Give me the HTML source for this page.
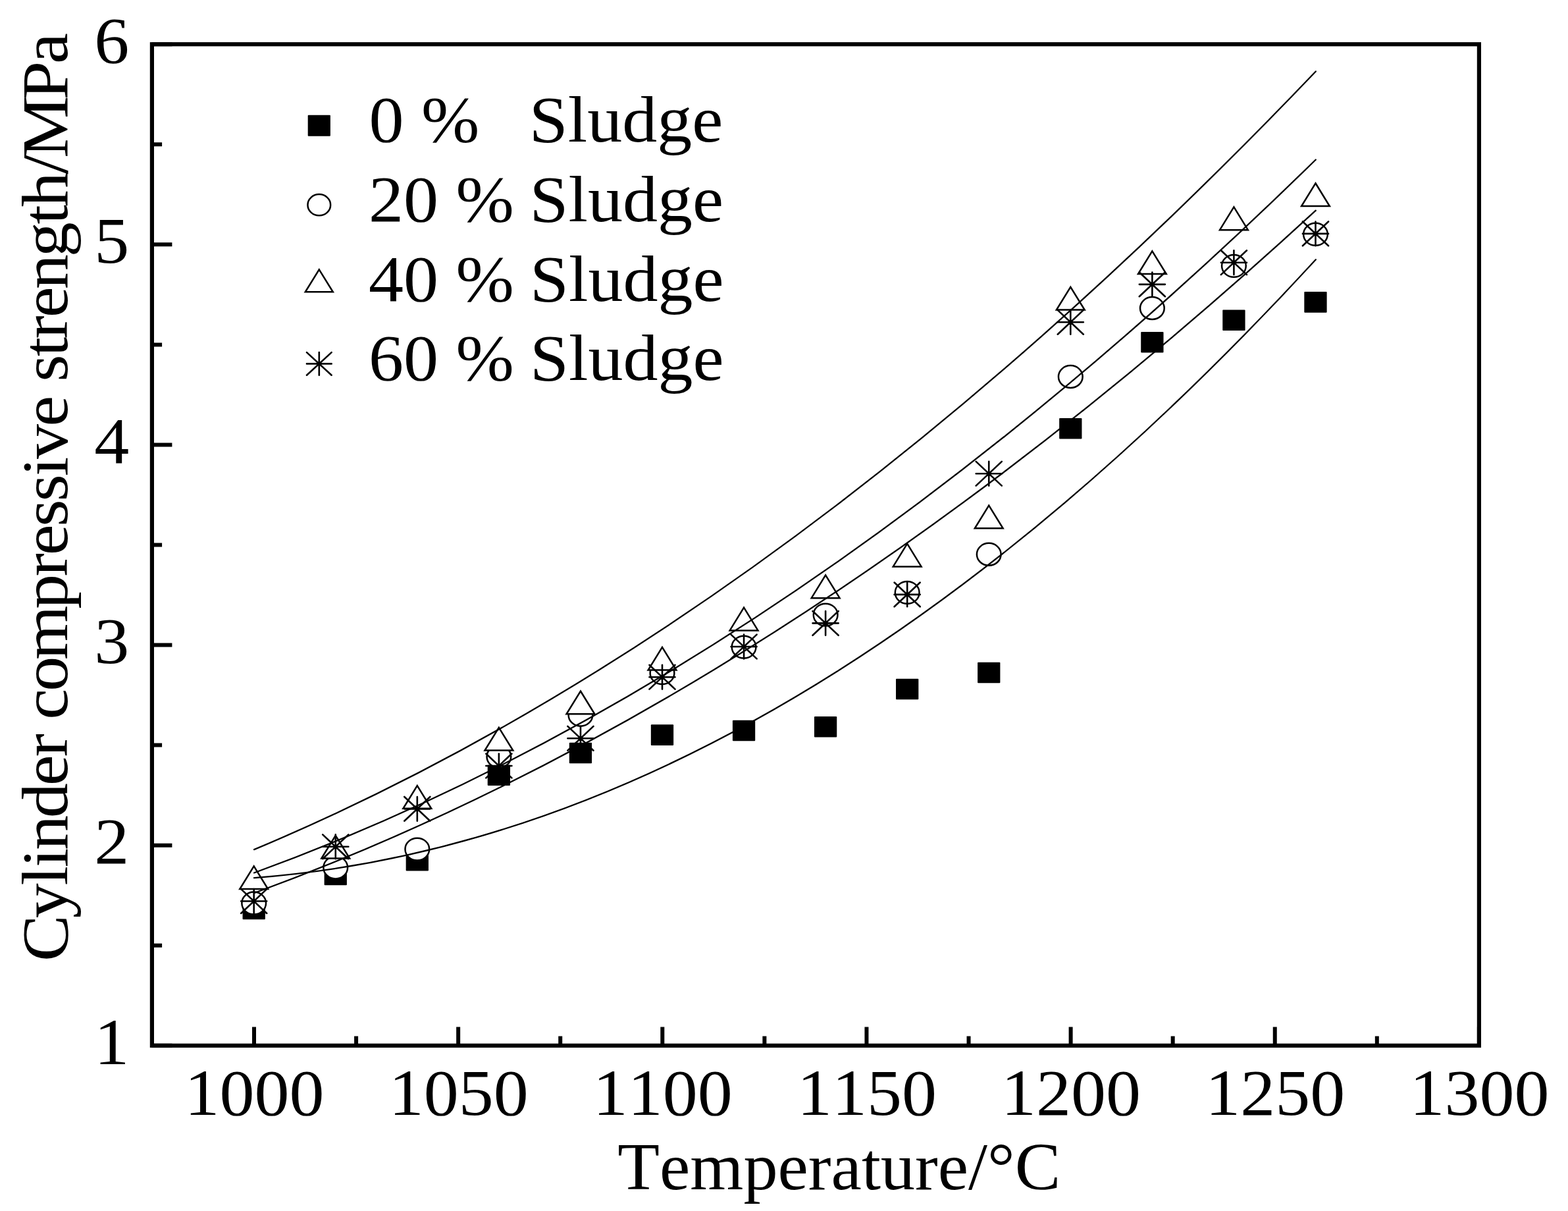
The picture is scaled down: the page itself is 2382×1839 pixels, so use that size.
<!DOCTYPE html>
<html lang="en"><head><meta charset="utf-8"><title>Cylinder compressive strength vs temperature</title>
<style>html,body{margin:0;padding:0;background:#fff}svg{display:block}text{font-family:"Liberation Serif","DejaVu Serif",serif;fill:#000;white-space:pre;font-kerning:none;font-variant-ligatures:none}</style></head><body>
<svg width="2382" height="1839" viewBox="0 0 2382 1839">
<rect x="0" y="0" width="2382" height="1839" fill="#fff"/>
<g id="axes" stroke="#000" fill="none" stroke-linecap="butt">
<rect x="230.9" y="67.2" width="2016" height="1520.6" stroke-width="6.2" stroke-linejoin="miter"/>
<path d="M386 1587.8V1559.5M696.15 1587.8V1559.5M1006.3 1587.8V1559.5M1316.45 1587.8V1559.5M1626.6 1587.8V1559.5M1936.75 1587.8V1559.5M2246.9 1587.8V1559.5" stroke-width="6.0"/>
<path d="M541.08 1587.8V1573.6M851.23 1587.8V1573.6M1161.38 1587.8V1573.6M1471.53 1587.8V1573.6M1781.67 1587.8V1573.6M2091.82 1587.8V1573.6" stroke-width="6.0"/>
<path d="M230.9 1587.8H261.4M230.9 1283.68H261.4M230.9 979.56H261.4M230.9 675.44H261.4M230.9 371.32H261.4M230.9 67.2H261.4M230.9 1435.74H246.1M230.9 1131.62H246.1M230.9 827.5H246.1M230.9 523.38H246.1M230.9 219.26H246.1" stroke-width="6.0"/>
</g>
<g id="s0"><rect x="368.55" y="1364.59" width="34.3" height="31.6" rx="1" fill="#000"/><rect x="492.61" y="1312.59" width="34.3" height="31.6" rx="1" fill="#000"/><rect x="616.67" y="1290.99" width="34.3" height="31.6" rx="1" fill="#000"/><rect x="740.73" y="1161.44" width="34.3" height="31.6" rx="1" fill="#000"/><rect x="864.79" y="1127.68" width="34.3" height="31.6" rx="1" fill="#000"/><rect x="988.85" y="1100.31" width="34.3" height="31.6" rx="1" fill="#000"/><rect x="1112.91" y="1093.77" width="34.3" height="31.6" rx="1" fill="#000"/><rect x="1236.97" y="1087.99" width="34.3" height="31.6" rx="1" fill="#000"/><rect x="1361.03" y="1030.67" width="34.3" height="31.6" rx="1" fill="#000"/><rect x="1485.09" y="1005.73" width="34.3" height="31.6" rx="1" fill="#000"/><rect x="1609.15" y="635.01" width="34.3" height="31.6" rx="1" fill="#000"/><rect x="1733.21" y="503.93" width="34.3" height="31.6" rx="1" fill="#000"/><rect x="1857.27" y="470.48" width="34.3" height="31.6" rx="1" fill="#000"/><rect x="1981.33" y="443.11" width="34.3" height="31.6" rx="1" fill="#000"/></g>
<g id="s20" fill="#fff" stroke="#000" stroke-width="2.5"><ellipse cx="385.7" cy="1371.57" rx="18.35" ry="16.95"/><ellipse cx="509.76" cy="1317.44" rx="18.35" ry="16.95"/><ellipse cx="633.82" cy="1289.61" rx="18.35" ry="16.95"/><ellipse cx="757.88" cy="1148.95" rx="18.35" ry="16.95"/><ellipse cx="881.94" cy="1085.7" rx="18.35" ry="16.95"/><ellipse cx="1006" cy="1022.14" rx="18.35" ry="16.95"/><ellipse cx="1130.06" cy="982.6" rx="18.35" ry="16.95"/><ellipse cx="1254.12" cy="933.64" rx="18.35" ry="16.95"/><ellipse cx="1378.18" cy="899.88" rx="18.35" ry="16.95"/><ellipse cx="1502.24" cy="841.79" rx="18.35" ry="16.95"/><ellipse cx="1626.3" cy="572.04" rx="18.35" ry="16.95"/><ellipse cx="1750.36" cy="468.03" rx="18.35" ry="16.95"/><ellipse cx="1874.42" cy="403.86" rx="18.35" ry="16.95"/><ellipse cx="1998.48" cy="355.81" rx="18.35" ry="16.95"/></g>
<g id="s40" fill="#fff" stroke="#000" stroke-width="2.5" stroke-linejoin="miter"><path d="M385.7 1315.32L407.1 1350.02H364.3Z"/><path d="M509.76 1268.79L531.16 1303.49H488.36Z"/><path d="M633.82 1193.07L655.22 1227.77H612.42Z"/><path d="M757.88 1104.87L779.28 1139.57H736.48Z"/><path d="M881.94 1049.52L903.34 1084.22H860.54Z"/><path d="M1006 982.92L1027.4 1017.62H984.6Z"/><path d="M1130.06 922.7L1151.46 957.4H1108.66Z"/><path d="M1254.12 873.44L1275.52 908.14H1232.72Z"/><path d="M1378.18 825.69L1399.58 860.39H1356.78Z"/><path d="M1502.24 767.6L1523.64 802.3H1480.84Z"/><path d="M1626.3 435.81L1647.7 470.51H1604.9Z"/><path d="M1750.36 381.37L1771.76 416.07H1728.96Z"/><path d="M1874.42 314.46L1895.82 349.16H1853.02Z"/><path d="M1998.48 278.27L2019.88 312.97H1977.08Z"/></g>
<path id="s60" fill="none" stroke="#000" stroke-width="2.6" stroke-linecap="round" d="M366.15 1368.53h39.1M385.7 1350.13v36.8M366.15 1350.13l39.1 36.8M405.25 1350.13l-39.1 36.8M490.21 1285.81h39.1M509.76 1267.41v36.8M490.21 1267.41l39.1 36.8M529.31 1267.41l-39.1 36.8M614.27 1228.33h39.1M633.82 1209.93v36.8M614.27 1209.93l39.1 36.8M653.37 1209.93l-39.1 36.8M738.33 1162.94h39.1M757.88 1144.54v36.8M738.33 1144.54l39.1 36.8M777.43 1144.54l-39.1 36.8M862.39 1121.28h39.1M881.94 1102.88v36.8M862.39 1102.88l39.1 36.8M901.49 1102.88l-39.1 36.8M986.45 1028.22h39.1M1006 1009.82v36.8M986.45 1009.82l39.1 36.8M1025.55 1009.82l-39.1 36.8M1110.51 981.99h39.1M1130.06 963.59v36.8M1110.51 963.59l39.1 36.8M1149.61 963.59l-39.1 36.8M1234.57 946.41h39.1M1254.12 928.01v36.8M1234.57 928.01l39.1 36.8M1273.67 928.01l-39.1 36.8M1358.63 902.92h39.1M1378.18 884.52v36.8M1358.63 884.52l39.1 36.8M1397.73 884.52l-39.1 36.8M1482.69 719.23h39.1M1502.24 700.83v36.8M1482.69 700.83l39.1 36.8M1521.79 700.83l-39.1 36.8M1606.75 489.32h39.1M1626.3 470.92v36.8M1606.75 470.92l39.1 36.8M1645.85 470.92l-39.1 36.8M1730.81 431.84h39.1M1750.36 413.44v36.8M1730.81 413.44l39.1 36.8M1769.91 413.44l-39.1 36.8M1854.87 398.69h39.1M1874.42 380.29v36.8M1854.87 380.29l39.1 36.8M1893.97 380.29l-39.1 36.8M1978.93 354.9h39.1M1998.48 336.5v36.8M1978.93 336.5l39.1 36.8M2018.03 336.5l-39.1 36.8"/>
<g id="fits" fill="none" stroke="#000" stroke-width="2.3" stroke-linecap="round">
<path d="M386 1290.15Q1192.39 952.6 1998.78 108.42"/>
<path d="M386 1325.47Q1192.39 1032.17 1998.78 242.5"/>
<path d="M386 1356.25Q1192.39 1061.53 1998.78 319.68"/>
<path d="M386 1333.12Q1192.39 1271.77 1998.78 394.21"/>
</g>
<g id="legend">
<rect x="467.7" y="174.7" width="34.2" height="32" rx="1" fill="#000"/>
<g fill="#fff" stroke="#000" stroke-width="2.5"><ellipse cx="484.8" cy="311.2" rx="17.35" ry="16.1"/><path d="M484.8 409.3L505.8 443.3H463.8Z"/></g>
<path fill="none" stroke="#000" stroke-width="2.6" stroke-linecap="round" d="M465.95 552.4h37.7M484.8 535.1v34.6M465.95 535.1l37.7 34.6M503.65 535.1l-37.7 34.6"/>
<text transform="translate(0 215.3) scale(1 0.9445)" font-size="106"><tspan x="560.5">0 %   </tspan><tspan x="803.8">Sludge</tspan></text>
<text transform="translate(0 335.8) scale(1 0.9445)" font-size="106"><tspan x="560">20 % </tspan><tspan x="804.6">Sludge</tspan></text>
<text transform="translate(0 457.2) scale(1 0.9445)" font-size="106"><tspan x="560">40 % </tspan><tspan x="805.1">Sludge</tspan></text>
<text transform="translate(0 577.3) scale(1 0.9445)" font-size="106"><tspan x="560">60 % </tspan><tspan x="805.1">Sludge</tspan></text>
</g>
<g id="xticks">
<text transform="translate(386.5 1692.6) scale(1 0.9445)" font-size="106" text-anchor="middle">1000</text>
<text transform="translate(696.65 1692.6) scale(1 0.9445)" font-size="106" text-anchor="middle">1050</text>
<text transform="translate(1006.8 1692.6) scale(1 0.9445)" font-size="106" text-anchor="middle">1100</text>
<text transform="translate(1316.95 1692.6) scale(1 0.9445)" font-size="106" text-anchor="middle">1150</text>
<text transform="translate(1627.1 1692.6) scale(1 0.9445)" font-size="106" text-anchor="middle">1200</text>
<text transform="translate(1937.25 1692.6) scale(1 0.9445)" font-size="106" text-anchor="middle">1250</text>
<text transform="translate(2247.4 1692.6) scale(1 0.9445)" font-size="106" text-anchor="middle">1300</text>
</g><g id="yticks">
<text transform="translate(196.2 1615.6) scale(1 0.9445)" font-size="106" text-anchor="end">1</text>
<text transform="translate(196.2 1311.48) scale(1 0.9445)" font-size="106" text-anchor="end">2</text>
<text transform="translate(196.2 1007.36) scale(1 0.9445)" font-size="106" text-anchor="end">3</text>
<text transform="translate(196.2 703.24) scale(1 0.9445)" font-size="106" text-anchor="end">4</text>
<text transform="translate(196.2 399.12) scale(1 0.9445)" font-size="106" text-anchor="end">5</text>
<text transform="translate(196.2 95) scale(1 0.9445)" font-size="106" text-anchor="end">6</text>
</g>
<text transform="translate(1274.8 1806) scale(1 0.9684)" font-size="104.3" text-anchor="middle">Temperature/°C</text>
<text transform="translate(101.7 1457.3) scale(0.9387 1) rotate(-90)" font-size="106" x="-2.77 63.09 112.86 140.01 166.23 215.08 264.16 307.99 340.86 364.49 407.62 455.31 532.46 582 614.08 657.67 695.69 734.17 760.4 809.48 853.65 877.49 915.98 942.89 974.97 1018.1 1066.95 1116.72 1142.94 1192.71 1217.32 1305.57 1360.38" y="0">Cylinder compressive strength/MPa</text>
</svg></body></html>
